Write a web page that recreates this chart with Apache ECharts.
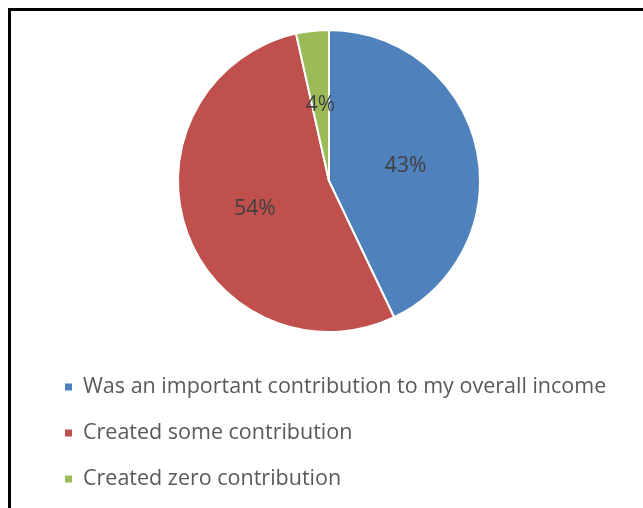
<!DOCTYPE html>
<html><head><meta charset="utf-8">
<script src="https://cdn.jsdelivr.net/npm/echarts@6/dist/echarts.min.js"></script>
<style>html,body{margin:0;padding:0;background:#fff}#c{width:643px;height:508px}</style>
</head><body><div id="c"></div>
<script>
const categories = ['Was an important contribution to my overall income', 'Created some contribution', 'Created zero contribution'];
const values = [42.9, 53.6, 3.5];
const colors = ['#4F81BD', '#C0504D', '#9BBB59'];

const chart = echarts.init(document.getElementById('c'), null, {renderer: 'canvas'});
chart.setOption({
  animation: false,
  backgroundColor: '#fff',
  graphic: [{
    type: 'rect', shape: {x: 9.5, y: 9.5, width: 700, height: 600},
    style: {fill: 'none', stroke: '#000', lineWidth: 3}, z: 100
  }],
  legend: {
    orient: 'vertical', left: 58, top: 371,
    itemWidth: 9, itemHeight: 9, itemGap: 24, icon: 'rect',
    textStyle: {fontFamily: 'Open Sans', fontSize: 21.5, color: '#595959', padding: [0, 0, 0, 5], lineHeight: 22},
    data: categories
  },
  series: [{
    type: 'pie', center: [329, 181], radius: 151, startAngle: 90, clockwise: true,
    itemStyle: {borderColor: '#fff', borderWidth: 2},
    label: {position: 'inside', formatter: p => Math.round(p.value) + '%', fontFamily: 'Open Sans', fontSize: 21, color: '#404040', offset: [0, 2]},
    labelLine: {show: false},
    emphasis: {disabled: true},
    data: categories.map((n, i) => ({name: n, value: values[i], itemStyle: {color: colors[i]}}))
  }]
});
</script></body></html>
